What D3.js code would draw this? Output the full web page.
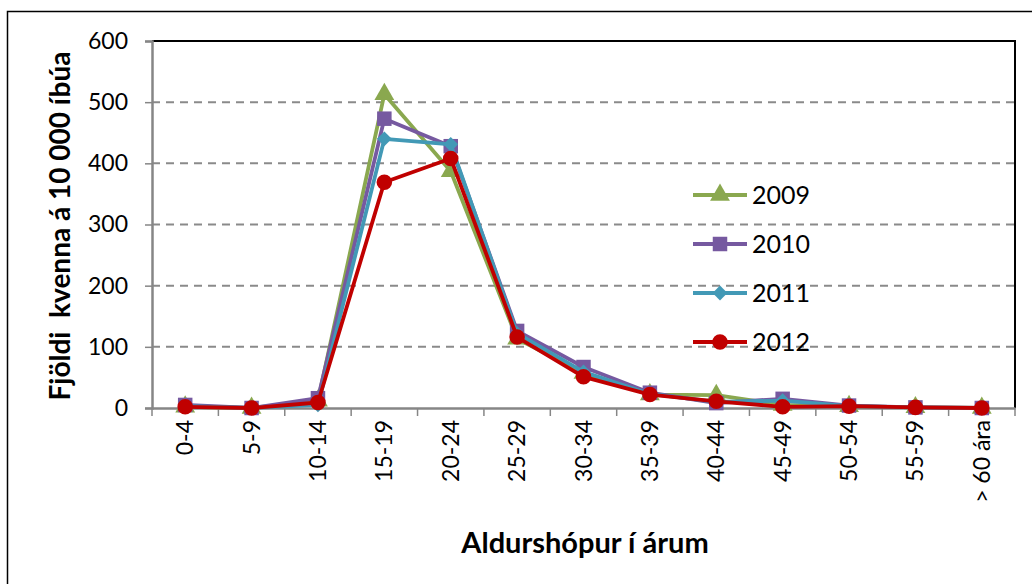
<!DOCTYPE html>
<html lang="is">
<head>
<meta charset="utf-8">
<title>Fjöldi kvenna</title>
<style>
  body { margin: 0; background: #fff; }
  svg { display: block; font-family: Lato, "Open Sans", sans-serif; }
</style>
<script src="https://d3js.org/d3.v7.min.js"></script>
</head>
<body>
<script>
var ageGroups = ["0-4", "5-9", "10-14", "15-19", "20-24", "25-29", "30-34",
                 "35-39", "40-44", "45-49", "50-54", "55-59", "> 60 ára"];
var y2009 = [2, 0, 12, 513, 387, 113, 57, 22, 21, 5, 3, 1, 0];
var y2010 = [5, 0, 16, 473, 428, 126, 67, 25, 8, 15, 4, 1, 0];
var y2011 = [3, 0, 5, 440, 431, 122, 59, 23, 10, 12, 3, 1, 0];
var y2012 = [2, 0, 9, 369, 408, 116, 51, 22, 11, 2, 3, 1, 0];
var yTicks = [0, 100, 200, 300, 400, 500, 600];

// diamond drawn as a square turned 45 degrees
var series = [
  { name: "2009", values: y2009, color: "#8aa84f", symbol: d3.symbolTriangle, size: 170, rot: 0 },
  { name: "2010", values: y2010, color: "#7659a0", symbol: d3.symbolSquare, size: 210, rot: 0 },
  { name: "2011", values: y2011, color: "#4299b6", symbol: d3.symbolSquare, size: 110, rot: 45 },
  { name: "2012", values: y2012, color: "#c00000", symbol: d3.symbolCircle, size: 190, rot: 0 }
];

var W = 1032, H = 584;
var pLeft = 152, pRight = 1015, pTop = 41, pBottom = 408;

var svg = d3.select("body").append("svg").attr("width", W).attr("height", H);

// chart outline
svg.append("rect").attr("x", 7.5).attr("y", 11.5).attr("width", 1100).attr("height", 700)
  .attr("fill", "none").attr("stroke", "#000").attr("stroke-width", 1.5);

var x = d3.scaleBand().domain(ageGroups).range([pLeft, pRight]);
var y = d3.scaleLinear().domain([0, 600]).range([pBottom, pTop]);

// gridlines
svg.append("g").selectAll("line").data(yTicks.filter(function(d){ return d > 0 && d < 600; }))
  .enter().append("line")
  .attr("x1", pLeft).attr("x2", pRight)
  .attr("y1", function(d){ return y(d); }).attr("y2", function(d){ return y(d); })
  .attr("stroke", "#8a8a8a").attr("stroke-width", 2).attr("stroke-dasharray", "8,6");

// plot frame top/right
svg.append("path")
  .attr("d", "M" + pLeft + "," + pTop + "H" + pRight + "V" + pBottom)
  .attr("fill", "none").attr("stroke", "#000").attr("stroke-width", 2);

// y axis
var yAxis = svg.append("g").attr("transform", "translate(" + pLeft + ",0)")
  .call(d3.axisLeft(y).tickValues(yTicks).tickSize(7).tickPadding(17));
yAxis.select(".domain").attr("stroke", "#868686").attr("stroke-width", 2.5);
yAxis.selectAll(".tick line").attr("stroke", "#868686").attr("stroke-width", 1.5);
yAxis.selectAll("text").attr("font-size", 23).attr("fill", "#000")
  .attr("font-family", "Lato, sans-serif");

// x axis
var xAxis = svg.append("g").attr("transform", "translate(0," + pBottom + ")")
  .call(d3.axisBottom(x).tickSize(0).tickSizeOuter(0));
xAxis.select(".domain").attr("stroke", "#868686").attr("stroke-width", 2.5);
xAxis.selectAll(".tick text")
  .attr("font-size", 23).attr("fill", "#000").attr("font-family", "Lato, sans-serif")
  .attr("transform", "rotate(-90)")
  .attr("text-anchor", "end").attr("x", -12).attr("y", 0).attr("dy", "0.35em");
// boundary ticks
svg.append("g").selectAll("line").data(d3.range(ageGroups.length + 1))
  .enter().append("line")
  .attr("x1", function(i){ return pLeft + i * x.step(); })
  .attr("x2", function(i){ return pLeft + i * x.step(); })
  .attr("y1", pBottom).attr("y2", pBottom + 8)
  .attr("stroke", "#868686").attr("stroke-width", 1.5);

// axis titles
svg.append("text")
  .attr("transform", "translate(70,226) rotate(-90)")
  .attr("text-anchor", "middle").attr("font-size", 28).attr("font-weight", "bold")
  .style("white-space", "pre")
  .text("Fjöldi  kvenna á 10 000 íbúa");
svg.append("text")
  .attr("x", 585).attr("y", 553)
  .attr("text-anchor", "middle").attr("font-size", 29).attr("font-weight", "bold")
  .text("Aldurshópur í árum");

var line = d3.line()
  .x(function(d, i){ return x(ageGroups[i]) + x.bandwidth() / 2; })
  .y(function(d){ return y(d); });

series.forEach(function(s) {
  var g = svg.append("g");
  g.append("path").datum(s.values).attr("d", line)
    .attr("fill", "none").attr("stroke", s.color).attr("stroke-width", 3.8)
    .attr("stroke-linejoin", "round");
  g.selectAll("path.m").data(s.values).enter().append("path").attr("class", "m")
    .attr("d", d3.symbol().type(s.symbol).size(s.size))
    .attr("transform", function(d, i){
      return "translate(" + (x(ageGroups[i]) + x.bandwidth() / 2) + "," + y(d) + ") rotate(" + s.rot + ")";
    })
    .attr("fill", s.color);
});

// legend
var legY = [195, 244, 293, 342];
series.forEach(function(s, i) {
  var g = svg.append("g").attr("transform", "translate(693," + legY[i] + ")");
  g.append("line").attr("x1", 0).attr("x2", 54).attr("stroke", s.color).attr("stroke-width", 3.8);
  g.append("path").attr("d", d3.symbol().type(s.symbol).size(s.size))
    .attr("transform", "translate(27,0) rotate(" + s.rot + ")").attr("fill", s.color);
  g.append("text").attr("x", 59).attr("dy", "0.35em").attr("font-size", 25).text(s.name);
});
</script>
</body>
</html>
